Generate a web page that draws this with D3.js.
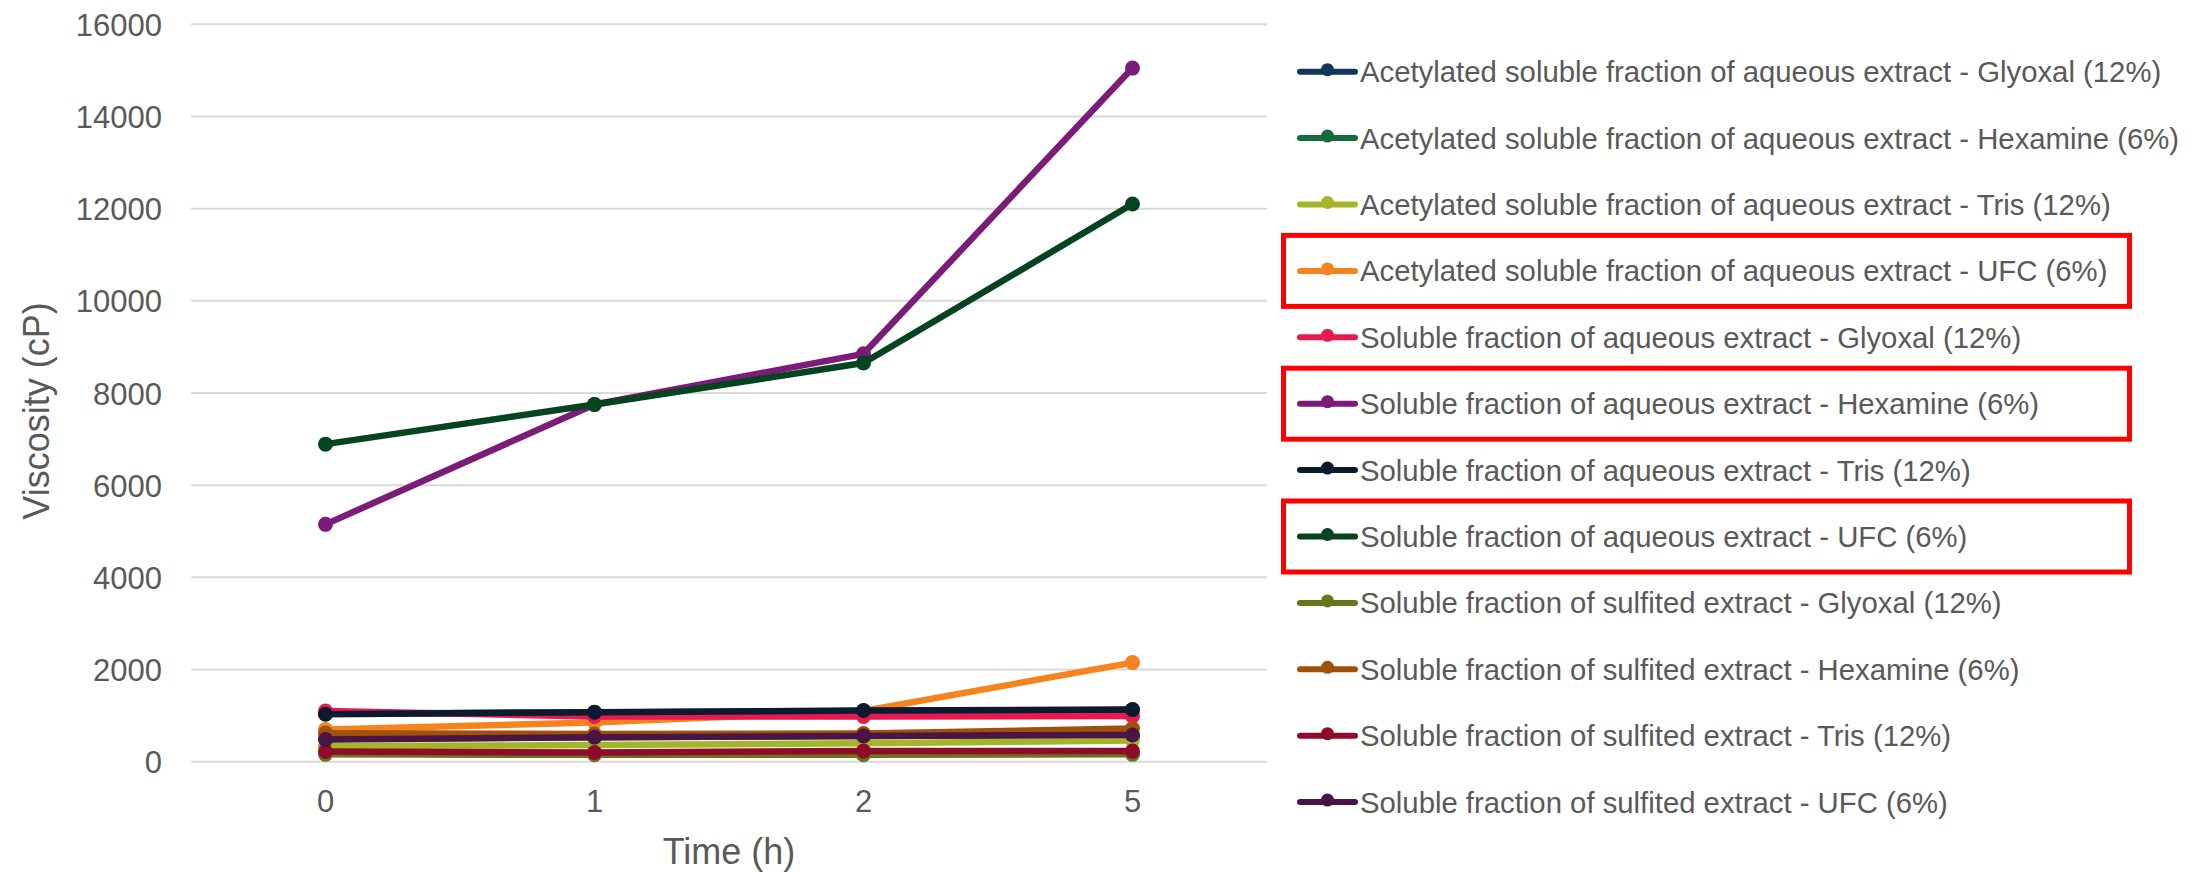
<!DOCTYPE html>
<html>
<head>
<meta charset="utf-8">
<script src="https://cdn.jsdelivr.net/npm/d3@7"></script>
<style>
  html, body { margin: 0; padding: 0; background: #ffffff; }
  svg { display: block; font-family: "Liberation Sans", Arial, sans-serif; }
</style>
</head>
<body>
<svg id="chart" width="2206" height="872"></svg>
<script>
// Sampling times (h), shown as evenly spaced categories
const times = ["0", "1", "2", "5"];
const yTicks = [0, 2000, 4000, 6000, 8000, 10000, 12000, 14000, 16000];

// Series names, in drawing / legend order
const seriesNames = [
  "Acetylated soluble fraction of aqueous extract - Glyoxal (12%)",
  "Acetylated soluble fraction of aqueous extract - Hexamine (6%)",
  "Acetylated soluble fraction of aqueous extract - Tris (12%)",
  "Acetylated soluble fraction of aqueous extract - UFC (6%)",
  "Soluble fraction of aqueous extract - Glyoxal (12%)",
  "Soluble fraction of aqueous extract - Hexamine (6%)",
  "Soluble fraction of aqueous extract - Tris (12%)",
  "Soluble fraction of aqueous extract - UFC (6%)",
  "Soluble fraction of sulfited extract - Glyoxal (12%)",
  "Soluble fraction of sulfited extract - Hexamine (6%)",
  "Soluble fraction of sulfited extract - Tris (12%)",
  "Soluble fraction of sulfited extract - UFC (6%)"
];

// Viscosity (cP) at 0, 1, 2 and 5 h
const acetGlyoxal  = [1040, 1070, 1100, 1120];
const acetHexamine = [490, 530, 560, 575];
const acetTris     = [340, 360, 400, 460];
const acetUFC      = [700, 850, 1100, 2150];
const aqGlyoxal    = [1100, 980, 980, 990];
const aqHexamine   = [5150, 7750, 8850, 15050];
const aqTris       = [1030, 1075, 1110, 1130];
const aqUFC        = [6890, 7750, 8650, 12100];
const sulfGlyoxal  = [160, 150, 150, 160];
const sulfHexamine = [620, 600, 610, 720];
const sulfTris     = [220, 200, 230, 230];
const sulfUFC      = [480, 530, 560, 580];

const seriesValues = [
  acetGlyoxal, acetHexamine, acetTris, acetUFC,
  aqGlyoxal, aqHexamine, aqTris, aqUFC,
  sulfGlyoxal, sulfHexamine, sulfTris, sulfUFC
];

const seriesColors = [
  "#12355b", "#146c3c", "#a5b52a", "#f5841f",
  "#e8194e", "#7b1c78", "#0b1a2e", "#064420",
  "#6a7419", "#a0510c", "#8f0b2a", "#4a1545"
];

// Legend entries outlined in red
const highlighted = [3, 5, 7];

const svg = d3.select("#chart");
const textColor = "#595959";

const plot = { left: 191, right: 1267, top: 24.3, bottom: 761.7 };

const x = d3.scaleBand().domain(times).range([plot.left, plot.right]).paddingInner(0).paddingOuter(0);
const y = d3.scaleLinear().domain([0, 16000]).range([plot.bottom, plot.top]);
const xc = d => x(d) + x.bandwidth() / 2;

// Horizontal gridlines
svg.append("g")
  .selectAll("line")
  .data(yTicks)
  .join("line")
  .attr("x1", plot.left).attr("x2", plot.right)
  .attr("y1", d => y(d)).attr("y2", d => y(d))
  .attr("stroke", "#d9d9d9")
  .attr("stroke-width", 2);

// Y axis tick labels
const yAxis = d3.axisLeft(y).tickValues(yTicks).tickSize(0).tickPadding(0).tickFormat(d3.format("d"));
const gy = svg.append("g").attr("transform", "translate(162,0)").call(yAxis);
gy.select(".domain").remove();
gy.selectAll("text")
  .attr("fill", textColor)
  .attr("font-size", 31)
  .attr("font-family", "Liberation Sans, Arial, sans-serif")
  .attr("dy", "0.36em");

// X axis tick labels
const xAxis = d3.axisBottom(x).tickSize(0).tickPadding(0);
const gx = svg.append("g").attr("transform", "translate(0,790)").call(xAxis);
gx.select(".domain").remove();
gx.selectAll("text")
  .attr("fill", textColor)
  .attr("font-size", 31)
  .attr("font-family", "Liberation Sans, Arial, sans-serif")
  .attr("dy", "0.72em");

// Axis titles
svg.append("text")
  .attr("x", (plot.left + plot.right) / 2)
  .attr("y", 864)
  .attr("text-anchor", "middle")
  .attr("fill", textColor)
  .attr("font-size", 36)
  .text("Time (h)");

svg.append("text")
  .attr("transform", "translate(49,411) rotate(-90)")
  .attr("text-anchor", "middle")
  .attr("fill", textColor)
  .attr("font-size", 36)
  .text("Viscosity (cP)");

// Series lines and markers
const line = d3.line()
  .x((d, i) => xc(times[i]))
  .y(d => y(d));

const series = svg.append("g")
  .selectAll("g")
  .data(seriesValues.map((v, i) => ({ values: v, color: seriesColors[i] })))
  .join("g");

series.append("path")
  .attr("d", d => line(d.values))
  .attr("fill", "none")
  .attr("stroke", d => d.color)
  .attr("stroke-width", 6.5)
  .attr("stroke-linejoin", "round")
  .attr("stroke-linecap", "round");

series.selectAll("circle")
  .data(d => d.values.map((v, i) => ({ v, t: times[i], color: d.color })))
  .join("circle")
  .attr("cx", d => xc(d.t))
  .attr("cy", d => y(d.v))
  .attr("r", 7.5)
  .attr("fill", d => d.color);

// Legend
const legendTop = 71.7;
const legendStep = 66.4;
const legend = svg.append("g")
  .selectAll("g")
  .data(seriesNames.map((name, i) => ({ name, color: seriesColors[i], i })))
  .join("g")
  .attr("transform", d => `translate(0,${legendTop + legendStep * d.i})`);

legend.append("line")
  .attr("x1", 1300).attr("x2", 1355)
  .attr("y1", 0).attr("y2", 0)
  .attr("stroke", d => d.color)
  .attr("stroke-width", 6)
  .attr("stroke-linecap", "round");

legend.append("circle")
  .attr("cx", 1327.5).attr("cy", -2)
  .attr("r", 6.5)
  .attr("fill", d => d.color);

legend.append("text")
  .attr("x", 1360)
  .attr("y", 0)
  .attr("dy", "0.36em")
  .attr("fill", textColor)
  .attr("font-size", 29.3)
  .text(d => d.name);

// Red outlines around selected legend entries
svg.append("g")
  .selectAll("rect")
  .data(highlighted)
  .join("rect")
  .attr("x", 1283.5)
  .attr("y", i => legendTop + legendStep * i - 35.5)
  .attr("width", 846)
  .attr("height", 71)
  .attr("fill", "none")
  .attr("stroke", "#ff0000")
  .attr("stroke-width", 5);
</script>
</body>
</html>
